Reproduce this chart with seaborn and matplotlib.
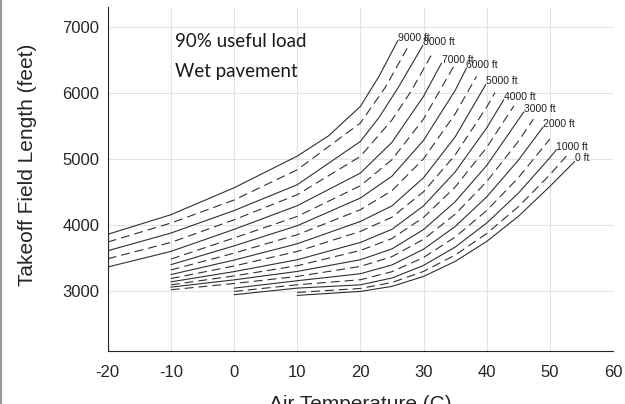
import matplotlib
matplotlib.use("Agg")
import matplotlib.pyplot as plt
import seaborn as sns
import pandas as pd
from matplotlib.lines import Line2D

# ---- data ----
t_9000 = [-20, -10, 0, 10, 15, 20, 23, 25.93]
l_9000 = [3855, 4152, 4560, 5040, 5350, 5793, 6257, 6792]
t_8500 = [-20, -10, 0, 10, 20, 24, 27.8]
l_8500 = [3738, 4026, 4375, 4833, 5541, 6090, 6740]
t_8000 = [-20, -10, 0, 10, 20, 23, 26, 29.89]
l_8000 = [3606, 3874, 4215, 4606, 5262, 5632, 6080, 6717]
t_7500 = [-20, -10, 0, 10, 20, 25, 28, 31.3]
l_7500 = [3485, 3732, 4075, 4455, 5035, 5588, 6019, 6580]
t_7000 = [-20, -10, 0, 10, 20, 25, 30, 32.85]
l_7000 = [3360, 3596, 3930, 4288, 4783, 5249, 5946, 6450]
t_6500 = [-10, 0, 10, 20, 25, 30, 34.9]
l_6500 = [3480, 3800, 4126, 4591, 4986, 5602, 6420]
t_6000 = [-10, 0, 10, 20, 25, 30, 35, 36.8]
l_6000 = [3395, 3680, 3985, 4405, 4736, 5279, 6034, 6374]
t_5500 = [-10, 0, 10, 20, 25, 30, 35, 38.4]
l_5500 = [3315, 3570, 3849, 4228, 4516, 4999, 5678, 6250]
t_5000 = [-10, 0, 10, 20, 25, 30, 35, 39.86]
l_5000 = [3245, 3465, 3712, 4050, 4286, 4712, 5330, 6126]
t_4500 = [-10, 0, 10, 20, 25, 30, 35, 40, 41.3]
l_4500 = [3185, 3375, 3596, 3899, 4114, 4500, 5056, 5783, 6000]
t_4000 = [-10, 0, 10, 20, 25, 30, 35, 40, 42.7]
l_4000 = [3135, 3290, 3470, 3732, 3931, 4286, 4799, 5468, 5894]
t_3500 = [-10, 0, 10, 20, 25, 30, 35, 40, 44.3]
l_3500 = [3090, 3225, 3379, 3611, 3791, 4111, 4571, 5171, 5800]
t_3000 = [-10, 0, 10, 20, 25, 30, 35, 40, 45.87]
l_3000 = [3055, 3165, 3293, 3470, 3634, 3927, 4348, 4898, 5708]
t_2500 = [-10, 0, 10, 20, 25, 30, 35, 40, 45, 47.4]
l_2500 = [3015, 3110, 3217, 3369, 3517, 3780, 4159, 4653, 5263, 5600]
t_2000 = [0, 10, 20, 25, 30, 35, 40, 45, 48.92]
l_2000 = [3040, 3152, 3258, 3391, 3629, 3973, 4422, 4977, 5480]
t_1500 = [0, 10, 20, 25, 30, 35, 40, 45, 50.0]
l_1500 = [2990, 3091, 3167, 3289, 3504, 3813, 4215, 4711, 5300]
t_1000 = [0, 10, 20, 25, 30, 35, 40, 45, 50, 51.04]
l_1000 = [2940, 3040, 3090, 3193, 3384, 3661, 4026, 4477, 5016, 5137]
t_500 = [10, 20, 25, 30, 35, 40, 45, 50, 52.6]
l_500 = [2975, 3035, 3125, 3293, 3540, 3867, 4273, 4757, 5040]
t_0 = [10, 20, 25, 30, 35, 40, 45, 50, 53.94]
l_0 = [2930, 2990, 3066, 3217, 3444, 3747, 4126, 4581, 4959]

altitudes = [9000, 8500, 8000, 7500, 7000, 6500, 6000, 5500, 5000, 4500,
             4000, 3500, 3000, 2500, 2000, 1500, 1000, 500, 0]
temps = [t_9000, t_8500, t_8000, t_7500, t_7000, t_6500, t_6000, t_5500,
         t_5000, t_4500, t_4000, t_3500, t_3000, t_2500, t_2000, t_1500,
         t_1000, t_500, t_0]
lengths = [l_9000, l_8500, l_8000, l_7500, l_7000, l_6500, l_6000, l_5500,
           l_5000, l_4500, l_4000, l_3500, l_3000, l_2500, l_2000, l_1500,
           l_1000, l_500, l_0]

x_ticks = [-20, -10, 0, 10, 20, 30, 40, 50, 60]
y_ticks = [3000, 4000, 5000, 6000, 7000]
note_lines = ["90% useful load", "Wet pavement"]

rows = []
for alt, ts, ls in zip(altitudes, temps, lengths):
    kind = "solid" if alt % 1000 == 0 else "dashed"
    for t, l in zip(ts, ls):
        rows.append({"alt": alt, "kind": kind, "T": t, "L": l})
df = pd.DataFrame(rows)

# ---- styling ----
sns.set_style("white")
plt.rcParams["font.family"] = ["Liberation Sans", "DejaVu Sans"]
plt.rcParams["axes.unicode_minus"] = False

fig = plt.figure(figsize=(6.25, 4.04), dpi=100)
ax = fig.add_axes([0.1723, 0.1300, 0.8085, 0.8527])

sns.lineplot(data=df, x="T", y="L", units="alt", estimator=None,
             style="kind", dashes={"solid": "", "dashed": (8, 4.5)},
             color="#303030", linewidth=0.8, legend=False, sort=False, ax=ax)

for alt, ts, ls in zip(altitudes, temps, lengths):
    if alt % 1000 == 0:
        ax.text(ts[-1], ls[-1], f"{alt} ft", fontsize=7.5, ha="left",
                va="baseline", color="#202020")

ax.text(-9.35, 6773, note_lines[0], fontsize=13.5, family="Lato",
        ha="left", va="center", color="#1a1a1a")
ax.text(-9.35, 6318, note_lines[1], fontsize=13.5, family="Lato",
        ha="left", va="center", color="#1a1a1a")

ax.set_xlim(-20, 60)
ax.set_ylim(2080, 7300)
ax.set_xticks(x_ticks)
ax.set_yticks(y_ticks)
ax.set_xticklabels([str(v) for v in x_ticks])
ax.set_yticklabels([str(v) for v in y_ticks])
ax.grid(True, color="#e3e3e3", linewidth=0.8)
ax.set_axisbelow(True)

for s in ["top", "right"]:
    ax.spines[s].set_visible(False)
for s in ["left", "bottom"]:
    ax.spines[s].set_color("#262626")
    ax.spines[s].set_linewidth(0.8)

ax.tick_params(axis="both", direction="in", length=4, width=0.8,
               colors="#262626", labelsize=12)
ax.tick_params(axis="x", pad=10)
ax.tick_params(axis="y", pad=6)

ax.set_xlabel("Air Temperature (C)", fontsize=15, color="#262626", va="top")
ax.set_ylabel("Takeoff Field Length (feet)", fontsize=15, color="#262626",
              va="center")
ax.xaxis.set_label_coords(0.5, -0.127)
ax.yaxis.set_label_coords(-0.158, 0.541)

fig.add_artist(Line2D([0.002, 0.002], [0, 1], transform=fig.transFigure,
                      color="#9a9a9a", linewidth=1.5))

fig.savefig("out.png", dpi=100)
